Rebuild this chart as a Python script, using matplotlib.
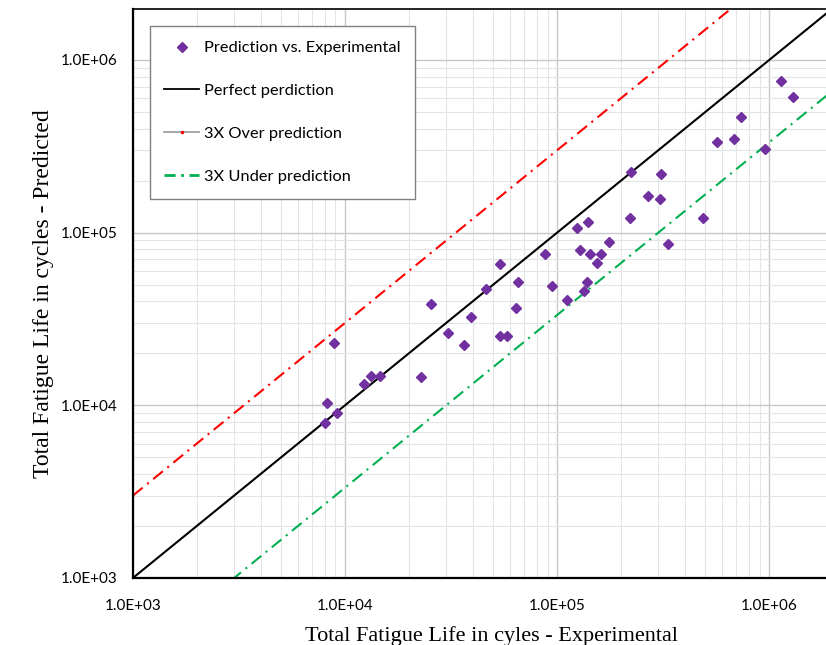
import numpy as np
import matplotlib
matplotlib.use('Agg')
import matplotlib.pyplot as plt
from matplotlib.lines import Line2D
from matplotlib.ticker import LogLocator, FixedLocator, NullFormatter

# experimental vs predicted fatigue life (cycles)
experimental = [8230, 8020, 8870, 9150, 12300, 13270, 14630, 22820, 25450, 30600,
                36400, 39300, 46250, 53850, 53850, 58100, 64100, 65000, 87800, 94700,
                111500, 124200, 128400, 133500, 138600, 140000, 143000, 154500, 161400, 176000,
                220900, 223300, 268700, 306000, 309000, 334000, 488000, 568500, 684000, 737900,
                957800, 1140000, 1300000]
predicted = [10300, 7900, 22950, 9020, 13300, 14780, 14780, 14580, 38600, 26200,
             22350, 32450, 47150, 65800, 25200, 25200, 36600, 51750, 75200, 49100,
             40700, 106300, 79300, 45900, 51750, 115200, 75200, 66700, 75200, 88300,
             121500, 224300, 162900, 156600, 218400, 85900, 121500, 334700, 348500, 467000,
             304800, 755000, 610000]

x_lim = (1e3, 1.85e6)
y_lim = (1e3, 1.97e6)
ref_x = np.array([1e3, 1e7])

fig = plt.figure(figsize=(8.26, 6.45), dpi=100)
ax = fig.add_axes([0.161, 0.104, 0.839, 0.882])

ax.set_xscale('log')
ax.set_yscale('log')
ax.set_xlim(x_lim)
ax.set_ylim(y_lim)

# grid
ax.grid(True, which='major', color='#c8c8c8', linewidth=1.0, zorder=0)
ax.grid(True, which='minor', color='#e4e4e4', linewidth=0.8, zorder=0)
ax.set_axisbelow(True)

ax.plot(ref_x, ref_x * 3, color='#ff0000', linewidth=1.5,
        dashes=(6, 2.75, 1, 2.75), zorder=2)
ax.plot(ref_x, ref_x / 3, color='#00b050', linewidth=1.5,
        dashes=(6, 2.75, 1, 2.75), zorder=2)
ax.plot(ref_x, ref_x, color='black', linewidth=1.5, zorder=3)
ax.plot(experimental, predicted, linestyle='none', marker='D', markersize=5,
        color='#7030a0', zorder=4)

# ticks
tick_font = dict(family=['Lato', 'DejaVu Sans'], size=11)
ax.xaxis.set_major_locator(FixedLocator([1e3, 1e4, 1e5, 1e6]))
ax.yaxis.set_major_locator(FixedLocator([1e3, 1e4, 1e5, 1e6]))
ax.xaxis.set_minor_locator(LogLocator(base=10, subs=np.arange(2, 10)))
ax.yaxis.set_minor_locator(LogLocator(base=10, subs=np.arange(2, 10)))
ax.xaxis.set_minor_formatter(NullFormatter())
ax.yaxis.set_minor_formatter(NullFormatter())
ax.set_xticklabels(['1.0E+03', '1.0E+04', '1.0E+05', '1.0E+06'], fontdict=tick_font)
ax.set_yticklabels(['1.0E+03', '1.0E+04', '1.0E+05', '1.0E+06'], fontdict=tick_font)
ax.tick_params(which='both', length=0)
ax.tick_params(axis='x', pad=15)
ax.tick_params(axis='y', pad=11)

for side in ['left', 'bottom']:
    ax.spines[side].set_linewidth(1.6)
ax.spines['top'].set_linewidth(1.2)
ax.spines['right'].set_visible(False)

ax.set_xlabel('Total Fatigue Life in cyles - Experimental',
              family=['Liberation Serif', 'DejaVu Serif'], size=16, labelpad=7)
ax.xaxis.set_label_coords(0.517, -0.085)
ax.set_ylabel('Total Fatigue Life in cycles - Predicted',
              family=['Liberation Serif', 'DejaVu Serif'], size=17, labelpad=5)

# legend with proxy handles
handles = [
    Line2D([], [], linestyle='none', marker='D', markersize=5, color='#7030a0'),
    Line2D([], [], color='black', linewidth=1.3),
    Line2D([0, 0.5, 1], [0, 0, 0], color='#a0a0a0', linewidth=1.3, marker='.',
           markevery=[1], markersize=3, markerfacecolor='red', markeredgecolor='red'),
    Line2D([], [], color='#00b050', linewidth=2, dashes=(4, 2, 1, 2)),
]
labels = ['Prediction vs. Experimental', 'Perfect perdiction',
          '3X Over prediction', '3X Under prediction']
leg = ax.legend(handles, labels, loc='upper left', bbox_to_anchor=(0.024, 0.97),
                prop=dict(family=['Lato', 'DejaVu Sans'], size=11.8),
                labelspacing=1.73, handlelength=2.1, handletextpad=0.3,
                borderpad=0.9, borderaxespad=0, fancybox=False, framealpha=1,
                edgecolor='#808080')
leg.get_frame().set_linewidth(1.0)

fig.savefig('out.png', dpi=100)
